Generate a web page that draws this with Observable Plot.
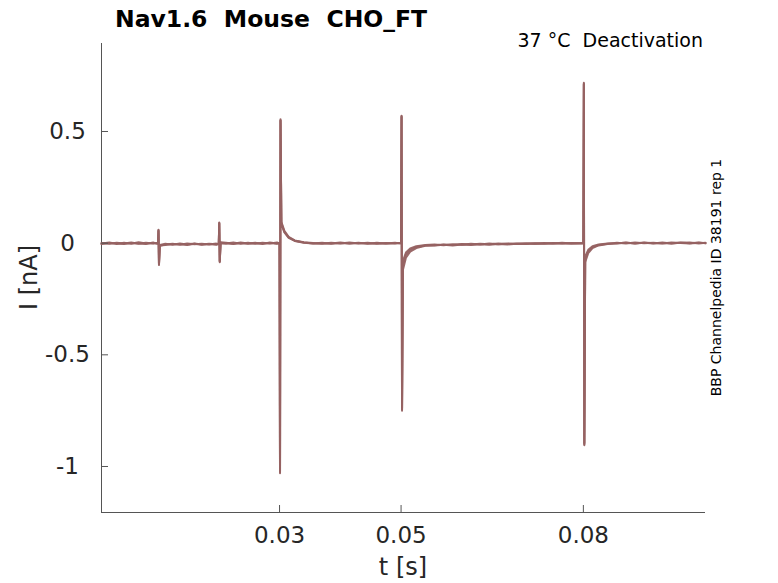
<!DOCTYPE html>
<html><head><meta charset="utf-8">
<script src="https://cdn.jsdelivr.net/npm/d3@7"></script>
<script src="https://cdn.jsdelivr.net/npm/@observablehq/plot@0.6"></script>
<style>body{margin:0;background:#fff} #chart{width:778px;height:583px}</style>
</head><body><div id="chart"></div>
<script>
// ---- data ----
const titleText = "Nav1.6  Mouse  CHO_FT";
const subtitleText = "37 °C  Deactivation";
const sideText = "BBP Channelpedia ID 38191 rep 1";
const xLabel = "t [s]";
const yLabel = "I [nA]";
const xTicks = [0.03, 0.05, 0.08];
const yTicks = [-1, -0.5, 0, 0.5];
const xDomain = [0.0007, 0.1001];
const yDomain = [-1.206, 0.894];
const traceColor = "#966262";

const t = [
0.0007,0.002,0.0032,0.0044,0.0056,0.0068,0.008,0.0092,0.0099,
0.01,0.01008,0.01016,0.0103,
0.0112,0.0124,0.0136,0.0148,0.016,0.0172,0.0184,0.0196,0.0199,
0.02,0.02008,0.02016,0.0203,
0.0212,0.0224,0.0236,0.0248,0.026,0.0272,0.0284,0.0296,0.0299,
0.03,0.03008,0.03016,0.0303,0.0308,0.0315,0.0325,0.034,
0.0355,0.037,0.0385,0.04,0.0415,0.043,0.0445,0.046,0.0475,0.049,0.0499,
0.05,0.05008,0.05016,0.0503,0.0508,0.0515,0.0525,0.054,
0.0555,0.057,0.0585,0.06,0.0615,0.063,0.0645,0.066,0.0675,0.069,0.0705,0.072,0.0735,0.075,0.0765,0.078,0.0799,
0.08,0.08008,0.08016,0.0803,0.0808,0.0815,0.0825,0.084,
0.0855,0.087,0.0885,0.09,0.0915,0.093,0.0945,0.096,0.0975,0.099,0.1001
];
const traceA = [
-0.002,0.003,-0.004,0.002,-0.003,0.004,-0.002,0.001,-0.001,
0.000,0.060,-0.098,-0.012,
-0.006,-0.003,-0.007,-0.002,-0.005,-0.003,-0.006,-0.002,-0.004,
-0.003,0.092,-0.085,0.004,
0.002,-0.003,0.003,-0.002,0.002,-0.004,0.003,-0.001,0.001,
0.000,-1.030,0.555,0.095,0.055,0.028,0.012,0.004,
0.001,-0.003,0.002,-0.002,0.003,-0.001,0.002,-0.003,0.001,-0.002,0.001,
0.002,0.570,-0.750,-0.120,-0.065,-0.038,-0.022,-0.012,
-0.009,-0.006,-0.008,-0.004,-0.006,-0.003,-0.005,-0.002,-0.004,-0.001,-0.003,0.000,-0.002,0.001,-0.001,0.001,0.000,
0.001,0.718,-0.905,-0.085,-0.045,-0.022,-0.010,-0.004,
0.002,-0.001,0.003,0.000,0.002,-0.002,0.003,0.001,-0.001,0.002,0.001
];
const traceB = [
0.001,-0.003,0.002,-0.002,0.003,-0.003,0.002,-0.002,0.002,
0.001,0.055,-0.092,-0.008,
-0.003,-0.007,-0.002,-0.006,-0.002,-0.006,-0.003,-0.005,-0.002,
-0.002,0.088,-0.080,0.002,
-0.002,0.003,-0.003,0.002,-0.003,0.002,-0.002,0.003,-0.001,
0.001,-1.020,0.548,0.085,0.048,0.024,0.010,0.002,
-0.002,0.002,-0.003,0.001,-0.002,0.002,-0.003,0.002,-0.001,0.002,-0.001,
-0.001,0.565,-0.740,-0.080,-0.042,-0.024,-0.014,-0.008,
-0.006,-0.009,-0.005,-0.007,-0.003,-0.006,-0.002,-0.005,-0.001,-0.004,0.000,-0.003,0.001,-0.001,0.002,-0.001,0.001,
0.000,0.710,-0.895,-0.060,-0.030,-0.014,-0.006,-0.001,
-0.001,0.003,-0.002,0.002,-0.001,0.003,-0.002,0.002,0.003,-0.001,0.002
];
const traceC = [
-0.004,0.001,-0.001,-0.004,0.001,-0.001,-0.004,0.003,-0.003,
-0.002,0.058,-0.095,-0.010,
-0.008,-0.004,-0.005,-0.008,-0.003,-0.007,-0.004,-0.007,-0.005,
-0.005,0.090,-0.082,-0.001,
0.000,-0.004,0.001,-0.003,0.000,-0.002,0.001,-0.003,0.000,
-0.001,-1.025,0.550,0.090,0.050,0.026,0.011,0.003,
-0.001,0.000,-0.001,0.003,-0.001,0.001,-0.001,0.000,-0.002,0.000,0.002,
0.001,0.568,-0.745,-0.100,-0.052,-0.030,-0.017,-0.010,
-0.011,-0.007,-0.010,-0.006,-0.008,-0.005,-0.007,-0.004,-0.006,-0.003,-0.004,-0.002,-0.003,-0.001,0.000,-0.002,-0.001,
-0.001,0.714,-0.900,-0.072,-0.036,-0.018,-0.008,-0.003,
0.000,0.002,-0.001,0.003,0.000,0.001,-0.001,0.003,0.000,0.003,-0.001
];

// ---- build table ----
const rows = [];
[["A", traceA], ["B", traceB], ["C", traceC]].forEach(([name, I]) =>
  t.forEach((tt, i) => rows.push({trace: name, t: tt, I: I[i]})));

const W = 778, H = 583, mL = 101, mR = 73, mT = 43, mB = 71;
const axisColor = "#555555", textColor = "#262626";

const plot = Plot.plot({
  width: W, height: H,
  marginLeft: mL, marginRight: mR, marginTop: mT, marginBottom: mB,
  style: {fontFamily: "DejaVu Sans", background: "#fff", color: textColor, overflow: "visible"},
  x: {domain: xDomain},
  y: {domain: yDomain},
  marks: [
    Plot.ruleX([xDomain[0]], {stroke: axisColor, strokeWidth: 1}),
    Plot.ruleY([yDomain[0]], {stroke: axisColor, strokeWidth: 1}),
    Plot.axisY(yTicks, {tickSize: 0, tickPadding: 34, textAnchor: "middle", fontSize: 23,
      tickFormat: d => String(d), label: null, fill: textColor}),
    Plot.axisX(xTicks, {tickSize: 0, tickPadding: 14, fontSize: 23,
      tickFormat: d => String(d), label: null, fill: textColor}),
    Plot.line(rows, {x: "t", y: "I", z: "trace", stroke: traceColor, strokeWidth: 2, strokeOpacity: 0.95}),
    Plot.tickY(yTicks, {y: d => d, insetRight: W - mL - mR - 7, stroke: axisColor}),
    Plot.tickX(xTicks, {x: d => d, insetTop: H - mT - mB - 7, stroke: axisColor})
  ]
});
document.getElementById("chart").appendChild(plot);

const svg = d3.select(plot);
const addText = (txt, x, y, opts) => {
  const el = svg.append("text")
    .attr("x", x).attr("y", y)
    .attr("font-family", "DejaVu Sans")
    .attr("font-size", opts.size)
    .attr("font-weight", opts.weight || "normal")
    .attr("fill", opts.fill || textColor)
    .attr("text-anchor", opts.anchor || "start")
    .style("white-space", "pre")
    .text(txt);
  if (opts.rotate) el.attr("transform", `rotate(-90 ${x} ${y})`);
  return el;
};
addText(titleText, 115, 27, {size: 23.5, weight: "bold", fill: "#000"});
addText(subtitleText, 703, 47, {size: 19, anchor: "end", fill: "#000"});
addText(xLabel, 403, 575, {size: 24, anchor: "middle"});
addText(yLabel, 37, 277.5, {size: 24, anchor: "middle", rotate: true});
addText(sideText, 721, 277.5, {size: 14, anchor: "middle", rotate: true, fill: "#000"});
</script>
</body></html>
